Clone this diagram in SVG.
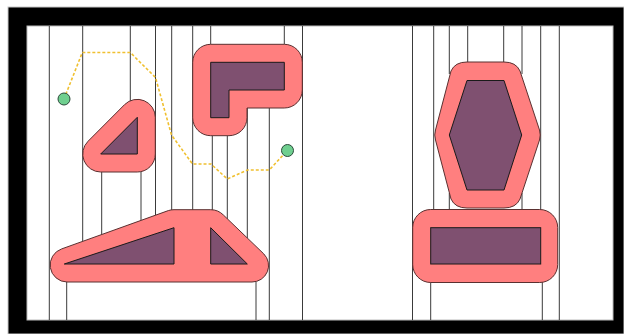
<svg xmlns="http://www.w3.org/2000/svg" width="624" height="334" viewBox="0 0 624 334">
<style>
.cell{stroke:#3a3a3a;stroke-width:1;fill:none}
.cspace{fill:#ff7f7f;stroke:#5a3030;stroke-width:1;stroke-linejoin:round}
.obst{fill:#7f5070;stroke:#1a1a1a;stroke-width:1;stroke-linejoin:miter}
.route{fill:none;stroke:#f0c030;stroke-width:1.6;stroke-dasharray:3 2}
.pt{fill:#6fcf8f;stroke:#2a4a3a;stroke-width:1}
</style>
<rect x="0" y="0" width="624" height="334" fill="#ffffff"/>
<rect x="8" y="7" width="616" height="327" fill="#000000" stroke="#c8c8c8" stroke-width="1"/>
<rect x="27" y="26" width="586" height="294" fill="#ffffff" stroke="#bbbbbb" stroke-width="1"/>

<g id="decomposition">
<line class="cell" x1="49.3" y1="26" x2="49.3" y2="320"/>
<line class="cell" x1="66.7" y1="282" x2="66.7" y2="320"/>
<line class="cell" x1="82.7" y1="26" x2="82.7" y2="241"/>
<line class="cell" x1="101.7" y1="172" x2="101.7" y2="234.5"/>
<line class="cell" x1="130.3" y1="26" x2="130.3" y2="101"/>
<line class="cell" x1="141" y1="172" x2="141" y2="220.5"/>
<line class="cell" x1="155.5" y1="26" x2="155.5" y2="215"/>
<line class="cell" x1="171.7" y1="26" x2="171.7" y2="210"/>
<line class="cell" x1="192.7" y1="26" x2="192.7" y2="210"/>
<line class="cell" x1="210.7" y1="26" x2="210.7" y2="44.3"/>
<line class="cell" x1="212.3" y1="135.7" x2="212.3" y2="210"/>
<line class="cell" x1="227.3" y1="135.6" x2="227.3" y2="219"/>
<line class="cell" x1="247.3" y1="108" x2="247.3" y2="238"/>
<line class="cell" x1="256" y1="282" x2="256" y2="320"/>
<line class="cell" x1="269.3" y1="108" x2="269.3" y2="320"/>
<line class="cell" x1="284.3" y1="26" x2="284.3" y2="44.3"/>
<line class="cell" x1="302.5" y1="26" x2="302.5" y2="320"/>
<line class="cell" x1="412.5" y1="26" x2="412.5" y2="320"/>
<line class="cell" x1="430.7" y1="282" x2="430.7" y2="320"/>
<line class="cell" x1="433.7" y1="26" x2="433.7" y2="209.5"/>
<line class="cell" x1="449.3" y1="26" x2="449.3" y2="74"/>
<line class="cell" x1="449.3" y1="193" x2="449.3" y2="209.5"/>
<line class="cell" x1="467.7" y1="26" x2="467.7" y2="62"/>
<line class="cell" x1="503.7" y1="26" x2="503.7" y2="62"/>
<line class="cell" x1="522" y1="26" x2="522" y2="74"/>
<line class="cell" x1="522" y1="193" x2="522" y2="209.5"/>
<line class="cell" x1="540.7" y1="26" x2="540.7" y2="209.5"/>
<line class="cell" x1="542.3" y1="282" x2="542.3" y2="320"/>
<line class="cell" x1="559.3" y1="26" x2="559.3" y2="320"/>
</g>

<g id="obstacle-triangle">
<path class="cspace" d="M124.6,104.6 A18,18 0 0 1 155.3,117.3 L155.3,154 A18,18 0 0 1 137.3,172 L100.7,172 A18,18 0 0 1 88,141.3 Z"/>
<path class="obst" d="M100.7,154 L137.3,117.3 L137.3,154 Z"/>
</g>

<g id="obstacle-L">
<path class="cspace" d="M210.7,44.3 L284.3,44.3 A18,18 0 0 1 302.3,62.3 L302.3,90 A18,18 0 0 1 284.3,108 L247,108 L247,117.7 A18,18 0 0 1 229,135.7 L210.7,135.7 A18,18 0 0 1 192.7,117.7 L192.7,62.3 A18,18 0 0 1 210.7,44.3 Z"/>
<path class="obst" d="M210.7,62.3 L284.3,62.3 L284.3,90 L229,90 L229,117.7 L210.7,117.7 Z"/>
</g>

<g id="obstacle-trapezoid">
<path class="cspace" d="M174,209.7 L210.7,209.7 A18,18 0 0 1 223.4,215 L263.7,253.8 A16.5,16.5 0 0 1 252,282 L67,282 A17,17 0 0 1 61.7,248.9 L168.3,210.6 A18,18 0 0 1 174,209.7 Z"/>
<path class="obst" d="M64.3,264 L174,227.7 L174,264 Z"/>
<path class="obst" d="M210.7,227.7 L210.7,264 L247.3,264 Z"/>
</g>

<g id="obstacle-hexagon">
<path class="cspace" d="M467,62 L504,62 Q516,62 520,71 L539.5,130 Q541,135 539.5,140 L520,199 Q516,208 504,208 L467,208 Q455,208 451,199 L435.5,140 Q434,135 435.5,130 L451,71 Q455,62 467,62 Z"/>
<path class="obst" d="M467,80.5 L504,80.5 L521.7,135 L504,190 L467,190 L449.3,135 Z"/>
</g>

<g id="obstacle-rectangle">
<rect class="cspace" x="412.7" y="209.5" width="145" height="73" rx="18" ry="18"/>
<rect class="obst" x="430.7" y="227.7" width="110" height="36.3"/>
</g>

<g id="connectors">
<polyline class="route" points="64,99 82.3,52.5 130.3,52.5 155.5,77.5 171.5,135 192.5,164 211,164 227.3,179 247.5,170 269.3,170 287.3,150.5"/>
</g>

<g id="start">
<circle class="pt" cx="64" cy="99" r="6"/>
</g>
<g id="goal">
<circle class="pt" cx="287.5" cy="150.5" r="6"/>
</g>
</svg>
